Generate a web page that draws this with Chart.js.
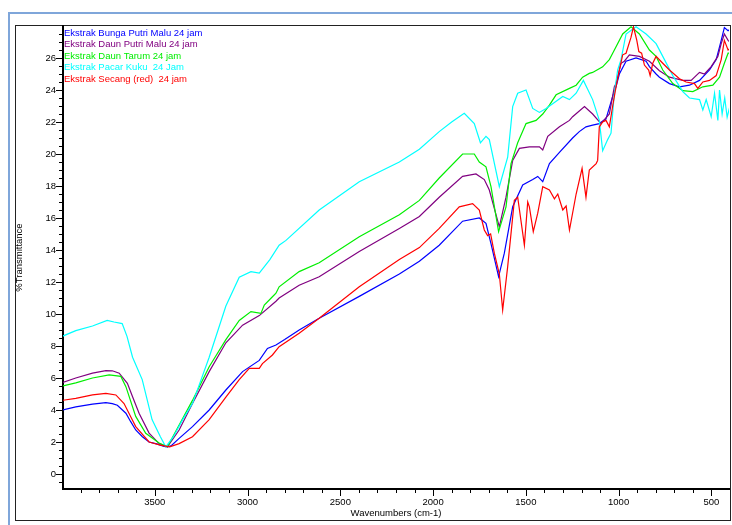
<!DOCTYPE html>
<html>
<head>
<meta charset="utf-8">
<script src="https://cdn.jsdelivr.net/npm/chart.js@4"></script>
<style>
  html, body { margin: 0; padding: 0; background: #fff; }
  #wrap { position: relative; width: 732px; height: 525px; }
</style>
</head>
<body>
<div id="wrap"><canvas id="ftirChart" width="732" height="525"></canvas></div>
<script>
// tick labels
const xTicks = [3500, 3000, 2500, 2000, 1500, 1000, 500];
const yTicks = [0, 2, 4, 6, 8, 10, 12, 14, 16, 18, 20, 22, 24, 26];

// Ekstrak Bunga Putri Malu 24 jam
const bungaWn = [4000,3926,3836,3764,3729,3702,3656,3630,3603,3567,3531,3490,3450,3432,3410,3369,3297,3207,3117,3027,2937,2893,2847,2800,2722,2614,2398,2182,2074,1967,1841,1751,1715,1688,1647,1616,1571,1517,1463,1436,1409,1373,1319,1248,1212,1176,1140,1104,1068,1032,1014,996,960,906,852,834,798,780,726,672,618,564,510,474,447,430,410,400];
const bungaT = [4.0,4.2,4.37,4.46,4.4,4.3,3.8,3.27,2.75,2.33,2.0,1.88,1.72,1.7,1.78,2.23,2.96,4.0,5.25,6.4,7.1,7.85,8.06,8.4,9.0,9.73,11.1,12.5,13.3,14.3,15.8,16.0,15.67,14.4,12.33,13.8,16.7,18.06,18.4,18.6,18.27,19.4,20.1,21.0,21.4,21.7,21.8,21.9,22.2,23.6,24.2,25.0,25.8,26.0,25.8,25.46,25.0,24.8,24.4,24.2,24.3,24.6,25.25,25.9,27.1,27.9,27.7,27.8];

// Ekstrak Daun Putri Malu 24 jam
const daunPutriWn = [4000,3926,3836,3764,3729,3692,3648,3620,3585,3531,3477,3432,3369,3297,3207,3117,3027,2937,2847,2830,2722,2614,2398,2182,2074,1967,1841,1769,1724,1697,1643,1607,1571,1535,1481,1427,1409,1382,1319,1265,1248,1184,1140,1095,1050,1023,1014,987,969,942,888,834,780,726,654,609,564,537,501,465,447,430,410,400];
const daunPutriT = [5.7,6.0,6.3,6.46,6.45,6.3,5.67,4.83,3.8,2.56,1.9,1.7,2.75,4.4,6.4,8.2,9.3,9.9,10.8,11.0,11.8,12.33,13.9,15.35,16.1,17.3,18.6,18.75,18.4,17.75,15.45,17.3,19.6,20.35,20.45,20.45,20.25,21.1,21.7,22.1,22.33,22.96,22.5,21.9,22.5,24.2,24.4,25.67,25.8,26.2,26.1,25.8,25.2,24.8,24.6,24.6,25.1,25.0,25.46,26.1,26.9,27.5,27.1,27.0];

// Ekstrak Daun Tarum 24 jam
const tarumWn = [4000,3926,3836,3746,3683,3656,3603,3549,3477,3432,3369,3297,3207,3117,3045,2982,2928,2910,2866,2847,2830,2722,2614,2398,2182,2074,1967,1841,1778,1751,1715,1688,1647,1607,1580,1544,1499,1445,1409,1373,1337,1265,1229,1194,1158,1140,1086,1050,1032,978,933,888,834,798,762,708,654,600,546,492,456,430,410,400];
const tarumT = [5.5,5.7,6.0,6.2,6.1,5.46,3.6,2.54,1.94,1.7,3.06,4.6,6.7,8.4,9.6,10.15,10.04,10.56,11.08,11.3,11.7,12.65,13.2,14.83,16.2,17.1,18.5,20.0,20.0,19.5,19.2,17.96,15.15,16.7,19.4,20.7,21.9,22.1,22.5,23.06,23.7,24.1,24.3,24.8,25.04,25.1,25.45,25.9,26.3,27.5,27.95,27.5,26.5,26.1,25.25,24.4,23.96,23.9,24.2,24.3,24.8,25.67,26.3,26.3];

// Ekstrak Pacar Kuku 24 Jam
const pacarWn = [4000,3926,3836,3757,3720,3676,3650,3620,3568,3515,3470,3441,3400,3350,3297,3207,3117,3045,2982,2937,2880,2830,2793,2614,2398,2182,2074,1967,1900,1832,1778,1745,1715,1697,1643,1598,1571,1544,1499,1463,1427,1391,1301,1265,1229,1190,1140,1104,1086,1059,1041,1023,1005,987,960,906,852,798,762,708,654,618,564,546,528,501,483,465,456,442,428,415,400];
const pacarT = [8.6,8.96,9.25,9.6,9.5,9.4,8.6,7.3,5.9,3.4,2.33,1.7,2.33,3.4,4.4,7.3,10.5,12.3,12.65,12.55,13.4,14.3,14.6,16.5,18.27,19.5,20.3,21.4,22.0,22.54,21.9,20.7,21.1,20.9,17.96,19.8,22.96,23.8,24.0,22.85,22.6,22.85,23.6,23.4,23.8,24.6,23.4,22.1,20.2,20.9,21.3,23.8,25.25,25.9,27.5,27.95,27.5,26.9,26.1,24.9,23.9,23.5,23.4,22.75,23.4,22.33,23.8,22.1,24.0,22.5,23.5,22.3,23.0];

// Ekstrak Secang (red) 24 jam
const secangWn = [4000,3926,3836,3764,3710,3666,3630,3603,3531,3470,3420,3369,3297,3207,3117,3045,2991,2937,2920,2866,2830,2722,2614,2398,2182,2074,1967,1859,1787,1751,1724,1706,1690,1670,1643,1625,1598,1562,1544,1508,1490,1481,1460,1436,1409,1373,1346,1328,1301,1283,1265,1229,1197,1176,1158,1121,1113,1104,1086,1068,1050,1032,1014,996,978,960,933,920,902,891,876,861,838,830,816,798,762,726,672,636,591,573,546,510,474,447,430,410,400];
const secangT = [4.6,4.73,4.94,5.04,4.94,4.4,3.58,2.96,2.0,1.8,1.7,1.9,2.33,3.4,4.8,5.9,6.6,6.6,6.9,7.44,7.96,8.8,9.73,11.7,13.4,14.15,15.35,16.7,16.9,16.5,15.25,14.9,15.0,13.8,12.5,10.25,12.96,17.1,17.3,14.3,17.0,16.7,15.15,16.3,17.96,17.75,17.2,17.5,16.5,16.75,15.25,17.5,19.1,17.3,19.0,19.4,19.6,21.7,22.0,22.1,21.7,23.0,24.2,25.25,26.2,26.3,27.3,27.95,27.1,26.4,26.3,25.56,25.25,24.9,25.67,26.1,25.67,25.25,24.7,24.5,24.4,24.1,24.5,24.6,24.9,25.9,27.1,26.5,26.6];

const FONT = "'Liberation Sans', Arial, sans-serif";

function toPoints(wn, t) {
  return wn.map((x, i) => ({ x: x, y: t[i] }));
}

const series = [
  { label: 'Ekstrak Bunga Putri Malu 24 jam', color: '#0000FF', wn: bungaWn, t: bungaT },
  { label: 'Ekstrak Daun Putri Malu 24 jam', color: '#800080', wn: daunPutriWn, t: daunPutriT },
  { label: 'Ekstrak Daun Tarum 24 jam', color: '#00EE00', wn: tarumWn, t: tarumT },
  { label: 'Ekstrak Pacar Kuku  24 Jam', color: '#00FFFF', wn: pacarWn, t: pacarT },
  { label: 'Ekstrak Secang (red)  24 jam', color: '#FF0000', wn: secangWn, t: secangT }
];

// frame, minor ticks and the text legend
const decor = {
  id: 'decor',
  beforeDraw(chart) {
    const ctx = chart.ctx;
    ctx.save();
    ctx.fillStyle = '#fff';
    ctx.fillRect(0, 0, chart.width, chart.height);
    ctx.strokeStyle = '#7FA6DA';
    ctx.lineWidth = 2;
    ctx.beginPath();
    ctx.moveTo(9, chart.height);
    ctx.lineTo(9, 13);
    ctx.lineTo(chart.width, 13);
    ctx.stroke();
    ctx.strokeStyle = '#222';
    ctx.lineWidth = 1;
    ctx.strokeRect(15.5, 25.5, 715, 495);
    ctx.restore();
  },
  afterDraw(chart) {
    const { ctx, chartArea: a, scales: { x, y } } = chart;
    ctx.save();
    ctx.strokeStyle = '#000';
    ctx.lineWidth = 1;
    ctx.beginPath();
    for (let v = 500; v <= 3900; v += 100) {
      const px = Math.round(x.getPixelForValue(v)) + 0.5;
      const len = v % 500 === 0 ? 6 : 3;
      ctx.moveTo(px, a.bottom + 1);
      ctx.lineTo(px, a.bottom + 1 + len);
    }
    for (let v = -0.5; v <= 27.5; v += 0.5) {
      const py = Math.round(y.getPixelForValue(v)) + 0.5;
      const len = v % 2 === 0 ? 6 : 3;
      ctx.moveTo(a.left - 1, py);
      ctx.lineTo(a.left - 1 - len, py);
    }
    ctx.stroke();

    ctx.font = '9.5px ' + FONT;
    ctx.textBaseline = 'middle';
    ctx.textAlign = 'left';
    chart.data.datasets.forEach((ds, i) => {
      ctx.fillStyle = ds.borderColor;
      ctx.fillText(ds.label, a.left + 1, a.top + 7 + i * 11.6);
    });
    ctx.restore();
  }
};

const ctx = document.getElementById('ftirChart').getContext('2d');
const ftirChart = new Chart(ctx, {
  type: 'line',
  data: {
    datasets: series.map((s, i) => ({
      label: s.label,
      data: toPoints(s.wn, s.t),
      borderColor: s.color,
      borderWidth: 1.2,
      pointRadius: 0,
      tension: 0,
      fill: false,
      order: series.length - i
    }))
  },
  options: {
    responsive: false,
    animation: false,
    events: [],
    layout: { padding: { top: 26, right: 3, left: 0, bottom: 0 } },
    plugins: { legend: { display: false }, tooltip: { enabled: false } },
    scales: {
      x: {
        type: 'linear',
        reverse: true,
        min: 405,
        max: 3995,
        afterFit: (s) => { s.height = 36; },
        afterBuildTicks: (s) => { s.ticks = xTicks.map(v => ({ value: v })); },
        grid: { display: true, drawOnChartArea: false, drawTicks: false },
        border: { display: true, color: '#000', width: 2 },
        ticks: {
          padding: 8, color: '#000', maxRotation: 0, autoSkip: false,
          font: { family: FONT, size: 9.5 },
          callback: (v) => String(v)
        },
        title: {
          display: true, text: 'Wavenumbers (cm-1)', color: '#000',
          font: { family: FONT, size: 9.5 }, padding: { top: 0, bottom: 6 }
        }
      },
      y: {
        type: 'linear',
        min: -0.9375,
        max: 28,
        afterFit: (s) => { s.width = 63; },
        afterBuildTicks: (s) => { s.ticks = yTicks.map(v => ({ value: v })); },
        grid: { display: true, drawOnChartArea: false, drawTicks: false },
        border: { display: true, color: '#000', width: 2 },
        ticks: {
          padding: 7, color: '#000', autoSkip: false,
          font: { family: FONT, size: 9.5 },
          callback: (v) => String(v)
        },
        title: {
          display: true, text: '%Transmittance', color: '#000',
          font: { family: FONT, size: 9.5 }, padding: { top: 14, bottom: 0 }
        }
      }
    }
  },
  plugins: [decor]
});
</script>
</body>
</html>
